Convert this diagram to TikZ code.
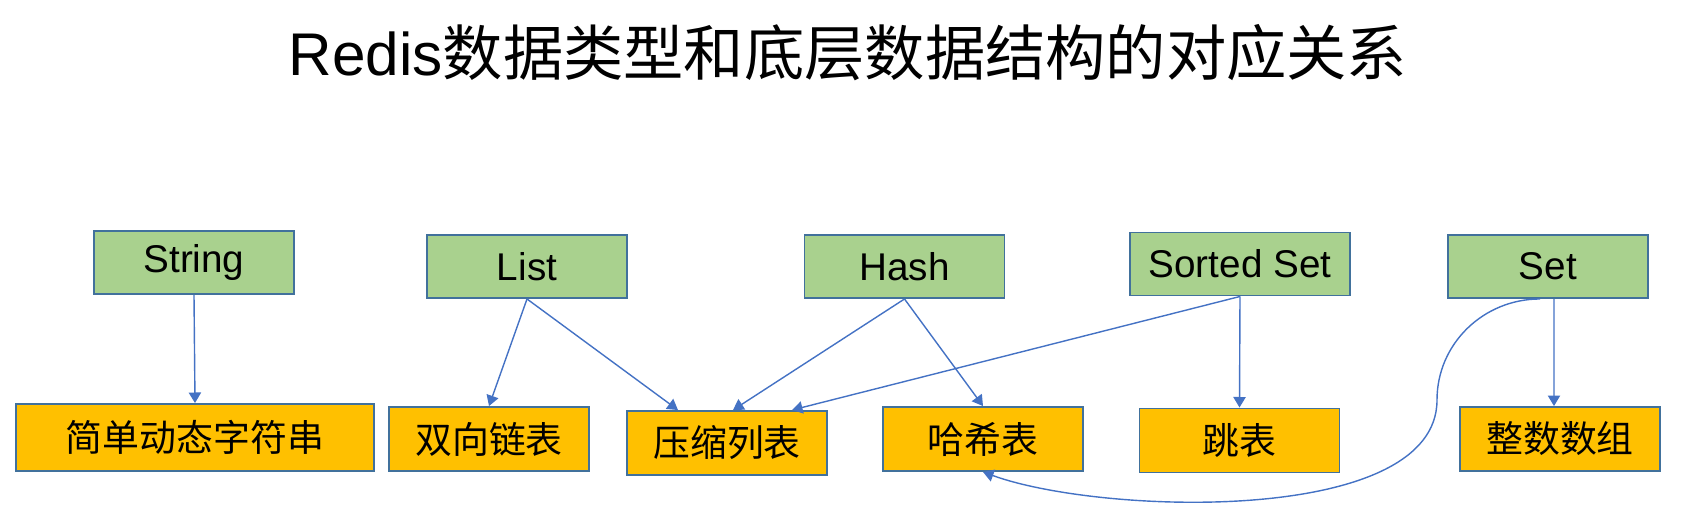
\documentclass[tikz,border=0pt]{standalone}
\usepackage{fontspec}
\setmainfont{Liberation Sans}
\newfontfamily\cjk{Noto Sans CJK SC}
\usepackage{tikz}
\usetikzlibrary{calc}
\usetikzlibrary{arrows.meta}

\definecolor{typgreen}{HTML}{A9D18E}
\definecolor{structorange}{HTML}{FFC000}
\definecolor{boxline}{HTML}{41719C}
\definecolor{arrowblue}{HTML}{4472C4}

\tikzset{
	typ/.style={draw=boxline, line width=1.1pt, fill=typgreen, minimum width=4cm, minimum height=1.26cm, inner sep=0pt, font=\fontsize{22}{26}\selectfont},
	struct/.style={draw=boxline, line width=1.1pt, fill=structorange, minimum width=4cm, minimum height=1.28cm, inner sep=0pt, font=\cjk\fontsize{21}{25}\selectfont},
	link/.style={draw=arrowblue, line width=0.8pt, -{Triangle[length=6pt,width=7pt]}}
}

\begin{document}
\begin{tikzpicture}
			\useasboundingbox (0,0) rectangle (33.76,-10.32);
			\coordinate (top) at (0,-5.3);
			\coordinate (bottom) at (0,-8.8);

			\node (title) at (16.96,-1.06) {\fontsize{34.3}{40}\selectfont Redis{\cjk 数据类型和底层数据结构的对应关系}};

			%data types
			\node[typ] (string) at ($(top)+(3.88,0.05)$) {String};
			\node[typ] (list) at ($(top)+(10.54,-0.03)$) {List};
			\node[typ] (hash) at ($(top)+(18.09,-0.03)$) {Hash};
			\node[typ, minimum width=4.4cm] (zset) at ($(top)+(24.8,0.02)$) {Sorted Set};
			\node[typ] (set) at ($(top)+(30.96,-0.03)$) {Set};

			%data structures
			\node[struct, minimum width=7.16cm, minimum height=1.34cm] (sds) at ($(bottom)+(3.9,0.05)$) {简单动态字符串};
			\node[struct] (linkedlist) at ($(bottom)+(9.78,0.02)$) {双向链表};
			\node[struct] (ziplist) at ($(bottom)+(14.54,-0.06)$) {压缩列表};
			\node[struct] (hashtable) at ($(bottom)+(19.66,0.02)$) {哈希表};
			\node[struct] (skiplist) at ($(bottom)+(24.79,-0.01)$) {跳表};
			\node[struct] (intarray) at ($(bottom)+(31.2,0.02)$) {整数数组};

			\coordinate (bend) at (28.74,-8.0);

			\draw[link] (string.south) -- (sds.north);
			\draw[link] (list.south) -- (linkedlist.north);
			\draw[link] (list.south) -- ($(ziplist.north)+(-0.98,0)$);
			\draw[link] (hash.south) -- ($(ziplist.north)+(0.12,0)$);
			\draw[link] (hash.south) -- (hashtable.north);
			\draw[link] (zset.south) -- ($(ziplist.north)+(1.3,0)$);
			\draw[link] (zset.south) -- (skiplist.north);
			\draw[link] ($(set.south)+(0.12,0)$) -- ($(intarray.north)+(-0.12,0)$);
			\draw[link] ($(set.south)+(-0.16,0)$) to[out=180,in=90] (bend) to[out=-90,in=-20,looseness=0.7] (hashtable.south);

\end{tikzpicture}
\end{document}
